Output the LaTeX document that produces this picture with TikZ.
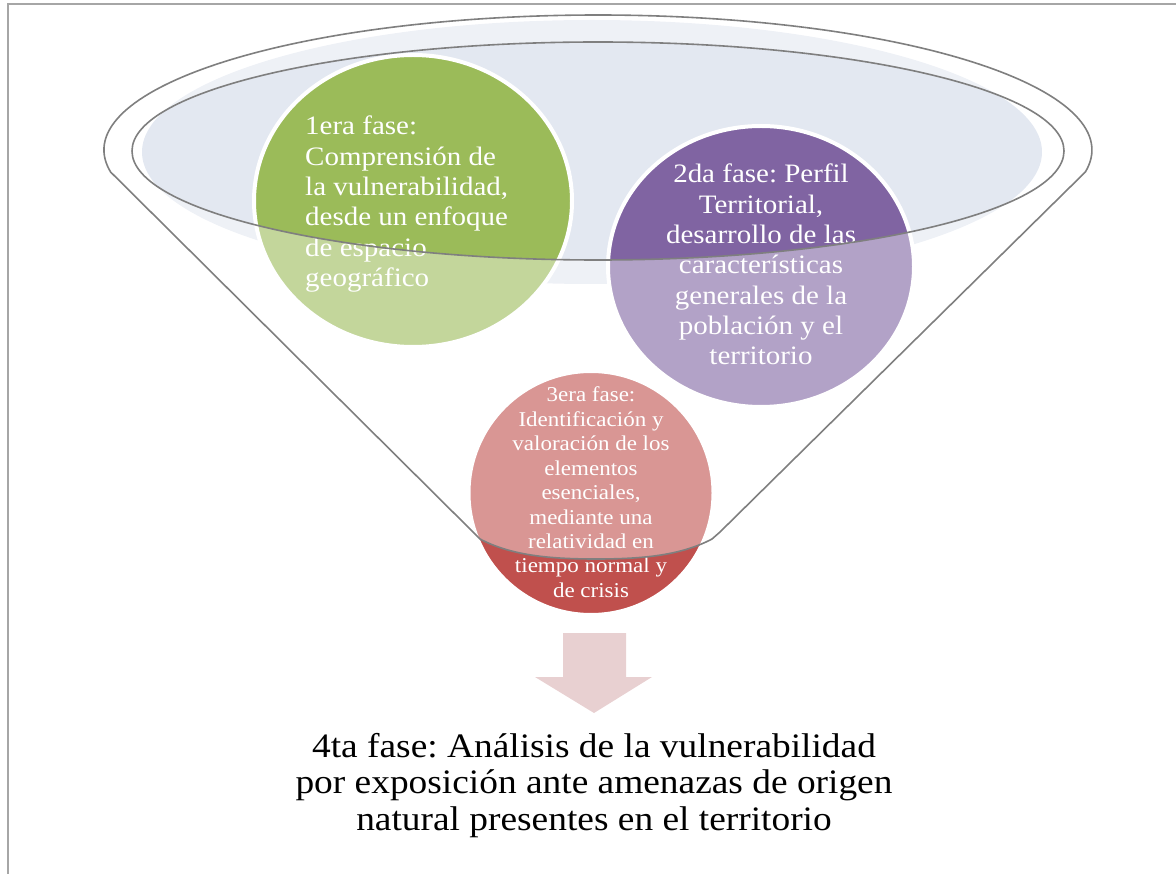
\documentclass[tikz,border=0pt]{standalone}
\usepackage{fontspec}
\setmainfont{Liberation Serif}[FakeStretch=1.09]
\usetikzlibrary{shapes.geometric}
\definecolor{gA}{HTML}{9BBB59}
\definecolor{pA}{HTML}{8064A2}
\definecolor{rA}{HTML}{C0504D}
\definecolor{rimfill}{HTML}{E3E8F1}
\definecolor{lineg}{HTML}{7F7F7F}
\definecolor{bord}{HTML}{A6A6A6}
\definecolor{arrowc}{HTML}{E8D0D1}
\frenchspacing
\begin{document}
\begin{tikzpicture}[x=1pt,y=-1pt,
  phase/.style={ellipse, draw=white, line width=4pt, inner sep=0pt},
  gtext/.style={text=white, inner sep=0pt, anchor=base west, font=\frenchspacing\fontsize{26.6}{30}\selectfont},
  ptext/.style={text=white, inner sep=0pt, anchor=base, font=\frenchspacing\fontsize{26.6}{30}\selectfont},
  rtext/.style={text=white, inner sep=0pt, anchor=base, font=\frenchspacing\fontsize{21.1}{24}\selectfont},
  btext/.style={text=black, inner sep=0pt, anchor=base, font=\frenchspacing\fontsize{34.3}{37}\selectfont},
  funnel/.style={draw=lineg, line width=1.6pt, fill=white, fill opacity=0.4, even odd rule},
  frame/.style={draw=bord, line width=1.5pt}]
\useasboundingbox (0,0) rectangle (1176,874);
% page frame
\draw[frame] (8,874) -- (8,4) -- (1176,4);
% light opening fill
\fill[rimfill] (592,152) ellipse [x radius=450, y radius=132];
% phase circles
\node[phase, fill=gA, minimum width=318pt, minimum height=292pt] (c1) at (413,201) {};
\node[phase, fill=pA, minimum width=306pt, minimum height=281pt] (c2) at (761,266.5) {};
\node[phase, fill=rA, minimum width=245pt, minimum height=244pt] (c3) at (591,493) {};
% texts of circles
\foreach \t [count=\i] in {{1era fase:},{Comprensión de},{la vulnerabilidad,},{desde un enfoque},{de espacio},{geográfico}}
  \node[gtext] (g\i) at (305,{135+30.3*(\i-1)}) {\t};
\foreach \t [count=\i] in {{2da fase: Perfil},{Territorial,},{desarrollo de las},{características},{generales de la},{población y el},{territorio}}
  \node[ptext] (p\i) at (761,{183+30.3*(\i-1)}) {\t};
\foreach \t [count=\i] in {{3era fase:},{Identificación y},{valoración de los},{elementos},{esenciales,},{mediante una},{relatividad en},{tiempo normal y},{de crisis}}
  \node[rtext] (r\i) at (591,{402+24.4*(\i-1)}) {\t};
% funnel body and outlines
\path[funnel] (110.6,172) arc[start angle=170.62, end angle=369.38, x radius=494, y radius=135]
  -- (720,532) -- (712,539) .. controls (680,556) and (640,559) .. (596,559)
  .. controls (552,559) and (512,556) .. (480,539) -- (473,532) -- cycle
  (598,151) ellipse [x radius=466, y radius=109];
% arrow
\fill[arrowc] (563,633) -- (626,633) -- (626,677) -- (652,677) -- (594,713) -- (535,677) -- (563,677) -- cycle;
% result
\foreach \t [count=\i] in {{4ta fase: Análisis de la vulnerabilidad},{por exposición ante amenazas de origen},{natural presentes en el territorio}}
  \node[btext] (b\i) at (594,{757+36.8*(\i-1)}) {\t};
\end{tikzpicture}
\end{document}
